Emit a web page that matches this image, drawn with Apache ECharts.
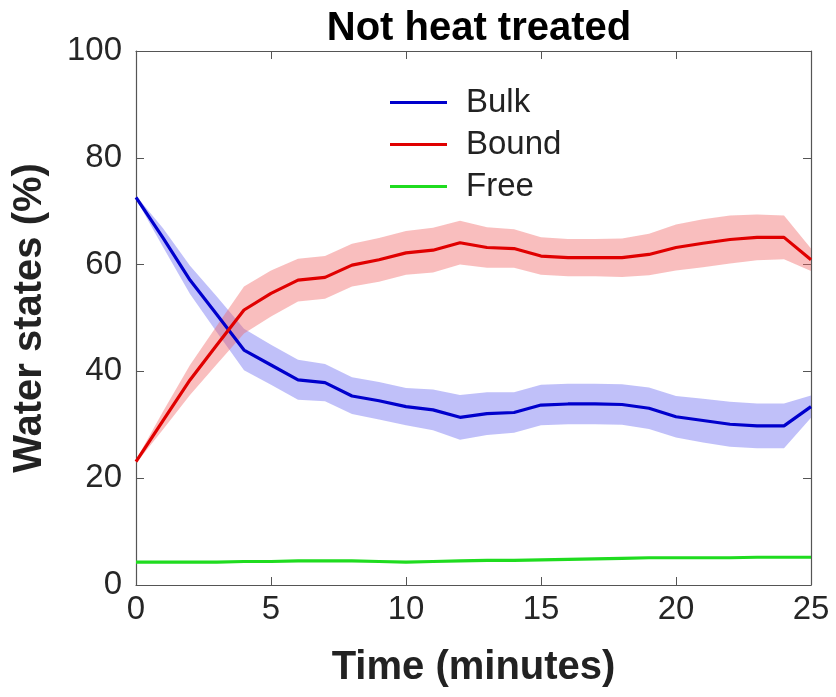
<!DOCTYPE html>
<html>
<head>
<meta charset="utf-8">
<script src="https://cdn.jsdelivr.net/npm/echarts@6/dist/echarts.min.js"></script>
<style>html,body{margin:0;padding:0;background:#fff}#c{width:836px;height:697px}</style>
</head>
<body>
<div id="c"></div>
<script>
const times = [0,1,2,3,4,5,6,7,8,9,10,11,12,13,14,15,16,17,18,19,20,21,22,23,24,25];
const bulk = [72.6,65.0,57.1,50.6,44.0,41.2,38.4,37.9,35.4,34.5,33.4,32.8,31.4,32.1,32.3,33.7,33.9,33.9,33.8,33.1,31.5,30.8,30.1,29.8,29.8,33.4];
const bulkHigh = [72.9,66.8,59.8,54.0,48.0,45.0,42.2,41.4,38.9,38.0,36.9,36.6,35.6,36.1,36.1,37.5,37.7,37.7,37.6,37.0,35.4,34.9,34.3,34.0,34.0,35.5];
const bulkLow = [72.3,63.3,54.5,47.3,40.2,37.5,34.7,34.4,32.0,31.0,29.9,29.0,27.2,28.1,28.5,29.9,30.1,30.1,30.0,29.2,27.6,26.7,25.9,25.6,25.6,31.3];
const bound = [23.1,30.8,38.4,45.0,51.5,54.6,57.1,57.6,59.9,60.9,62.2,62.7,64.1,63.2,63.0,61.6,61.3,61.3,61.3,61.9,63.2,64.0,64.7,65.1,65.1,60.9];
const boundHigh = [23.4,32.5,41.2,48.6,55.9,58.9,61.1,61.6,63.9,65.0,66.3,66.9,68.2,67.0,66.6,65.1,64.8,64.8,64.9,65.8,67.5,68.5,69.2,69.4,69.2,63.0];
const boundLow = [22.8,29.1,35.6,41.4,47.1,50.3,53.1,53.6,55.9,56.8,58.1,58.5,60.0,59.4,59.4,58.1,57.8,57.8,57.7,58.0,58.9,59.5,60.2,60.8,61.0,58.8];
const free = [4.3,4.3,4.3,4.3,4.4,4.4,4.5,4.5,4.5,4.4,4.3,4.4,4.5,4.6,4.6,4.7,4.8,4.9,5.0,5.1,5.1,5.1,5.1,5.2,5.2,5.2];
const xTicks = [0,5,10,15,20,25];
const yTicks = [0,20,40,60,80,100];
const seriesNames = ['Bulk','Bound','Free'];

const pairs = arr => times.map((t,i)=>[t,arr[i]]);

function bandSeries(name, hi, lo, color){
  return {
    name:name, type:'custom', silent:true, z:1,
    data:[[0,0]],
    renderItem:function(params, api){
      const pts = [];
      for (let i=0;i<times.length;i++) pts.push(api.coord([times[i], hi[i]]));
      for (let i=times.length-1;i>=0;i--) pts.push(api.coord([times[i], lo[i]]));
      return {type:'polygon', shape:{points:pts}, style:{fill:color}};
    }
  };
}

const FONT = 'Liberation Sans, Arial, sans-serif';
const axisCol = '#555';
const chart = echarts.init(document.getElementById('c'), null, {renderer:'canvas'});
const baseX = {
  type:'value', min:0, max:25, interval:5,
  axisLine:{show:true, onZero:false, lineStyle:{color:axisCol, width:1.2}},
  axisTick:{show:true, inside:true, length:8, lineStyle:{color:axisCol}},
  splitLine:{show:false}
};
const baseY = {
  type:'value', min:0, max:100, interval:20,
  axisLine:{show:true, onZero:false, lineStyle:{color:axisCol, width:1.2}},
  axisTick:{show:true, inside:true, length:8, lineStyle:{color:axisCol}},
  splitLine:{show:false}
};
chart.setOption({
  animation:false,
  backgroundColor:'#fff',
  title:{text:'Not heat treated', left:474, top:4, textAlign:'center',
    textStyle:{fontFamily:FONT, fontWeight:'bold', fontSize:40, color:'#000'}},
  grid:{left:136, right:25, top:51, bottom:112},
  legend:{
    data:seriesNames, orient:'vertical', left:385, top:81, itemWidth:57, itemHeight:3, itemGap:9,
    icon:'rect',
    textStyle:{fontFamily:FONT, fontSize:33, color:'#222', padding:[0,0,0,14]}
  },
  xAxis:[
    Object.assign({}, baseX, {position:'bottom', name:'Time (minutes)', nameLocation:'middle', nameGap:63,
      nameTextStyle:{fontFamily:FONT, fontWeight:'bold', fontSize:40, color:'#222'},
      axisLabel:{fontFamily:FONT, fontSize:33, color:'#262626', margin:8,
        formatter:v=>xTicks.includes(v)?String(v):''}}),
    Object.assign({}, baseX, {position:'top', axisLabel:{show:false}})
  ],
  yAxis:[
    Object.assign({}, baseY, {position:'left', name:'Water states (%)', nameLocation:'middle', nameGap:86,
      nameTextStyle:{fontFamily:FONT, fontWeight:'bold', fontSize:40, color:'#222'},
      axisLabel:{fontFamily:FONT, fontSize:33, color:'#262626', margin:14,
        formatter:v=>yTicks.includes(v)?String(v):''}}),
    Object.assign({}, baseY, {position:'right', axisLabel:{show:false}})
  ],
  series:[
    bandSeries('bulkBand', bulkHigh, bulkLow, 'rgba(90,90,240,0.38)'),
    bandSeries('boundBand', boundHigh, boundLow, 'rgba(240,100,100,0.42)'),
    {name:'Bulk', type:'line', data:pairs(bulk), symbol:'none', itemStyle:{color:'#0000cc'},
      lineStyle:{color:'#0000cc', width:3.2}, z:3},
    {name:'Bound', type:'line', data:pairs(bound), symbol:'none', itemStyle:{color:'#e00000'},
      lineStyle:{color:'#e00000', width:3.2}, z:3},
    {name:'Free', type:'line', data:pairs(free), symbol:'none', itemStyle:{color:'#1fdc1f'},
      lineStyle:{color:'#1fdc1f', width:3.2}, z:3}
  ]
});
</script>
</body>
</html>
